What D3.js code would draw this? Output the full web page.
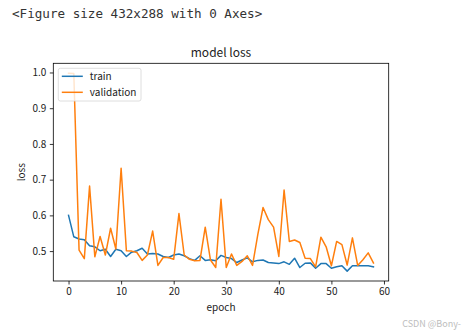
<!DOCTYPE html>
<html>
<head>
<meta charset="utf-8">
<script src="https://cdn.jsdelivr.net/npm/d3@7"></script>
<style>
  html, body { margin: 0; padding: 0; background: #fff; }
  svg { display: block; }
</style>
</head>
<body>
<svg id="chart" width="465" height="335"></svg>
<script>
// Per-epoch loss history
const epochs = d3.range(0, 59);
const trainLoss = [
  0.600, 0.540, 0.534, 0.532, 0.515, 0.512, 0.501, 0.505, 0.485, 0.505,
  0.501, 0.485, 0.497, 0.501, 0.508, 0.492, 0.493, 0.492, 0.485, 0.482,
  0.489, 0.492, 0.487, 0.479, 0.474, 0.487, 0.474, 0.476, 0.473, 0.488,
  0.482, 0.479, 0.468, 0.475, 0.481, 0.470, 0.474, 0.475, 0.468, 0.467,
  0.465, 0.470, 0.463, 0.480, 0.454, 0.466, 0.467, 0.452, 0.465, 0.465,
  0.452, 0.456, 0.459, 0.444, 0.459, 0.459, 0.459, 0.459, 0.456
];
const valLoss = [
  0.998, 0.997, 0.503, 0.479, 0.682, 0.484, 0.541, 0.489, 0.564, 0.506,
  0.732, 0.501, 0.500, 0.496, 0.474, 0.489, 0.556, 0.460, 0.482, 0.482,
  0.477, 0.605, 0.489, 0.477, 0.473, 0.474, 0.567, 0.475, 0.454, 0.645,
  0.454, 0.492, 0.460, 0.471, 0.487, 0.460, 0.546, 0.622, 0.588, 0.567,
  0.485, 0.671, 0.527, 0.531, 0.524, 0.480, 0.479, 0.456, 0.539, 0.512,
  0.459, 0.527, 0.518, 0.461, 0.537, 0.460, 0.476, 0.495, 0.467
];
const xTicks = [0, 10, 20, 30, 40, 50, 60];
const yTicks = [0.5, 0.6, 0.7, 0.8, 0.9, 1.0];
const seriesNames = ["train", "validation"];
const seriesColors = ["#1f77b4", "#ff7f0e"];

const svg = d3.select("#chart");
const font = "'Noto Sans CJK SC', 'Noto Sans', sans-serif";

// Notebook output line above the figure
svg.append("text")
  .attr("x", 12).attr("y", 18)
  .attr("font-family", "'DejaVu Sans Mono', monospace")
  .attr("font-size", 12.6)
  .attr("fill", "#333")
  .text("<Figure size 432x288 with 0 Axes>");

const plot = { left: 53.3, right: 388.7, top: 63.3, bottom: 281 };

// Matplotlib-style 5% margins around the data range
function padded(lo, hi) {
  const m = (hi - lo) * 0.05;
  return [lo - m, hi + m];
}
const allLoss = trainLoss.concat(valLoss);
const x = d3.scaleLinear()
  .domain(padded(d3.min(epochs), d3.max(epochs)))
  .range([plot.left, plot.right]);
const y = d3.scaleLinear()
  .domain(padded(d3.min(allLoss), d3.max(allLoss)))
  .range([plot.bottom, plot.top]);

// Clip lines to the axes area
svg.append("clipPath").attr("id", "plotClip")
  .append("rect")
  .attr("x", plot.left).attr("y", plot.top)
  .attr("width", plot.right - plot.left).attr("height", plot.bottom - plot.top);

const line = d3.line()
  .x((d, i) => x(epochs[i]))
  .y(d => y(d));

const series = [trainLoss, valLoss];
series.forEach((vals, k) => {
  svg.append("path")
    .datum(vals)
    .attr("clip-path", "url(#plotClip)")
    .attr("fill", "none")
    .attr("stroke", seriesColors[k])
    .attr("stroke-width", 1.5)
    .attr("stroke-linejoin", "round")
    .attr("stroke-linecap", "square")
    .attr("d", line);
});

// Axes
const xAxis = svg.append("g")
  .attr("transform", `translate(0,${plot.bottom})`)
  .call(d3.axisBottom(x).tickValues(xTicks).tickFormat(d3.format("d"))
    .tickSize(3.5).tickPadding(3.5));
const yAxis = svg.append("g")
  .attr("transform", `translate(${plot.left},0)`)
  .call(d3.axisLeft(y).tickValues(yTicks).tickFormat(d3.format(".1f"))
    .tickSize(3.5).tickPadding(3.5));

[xAxis, yAxis].forEach(g => {
  g.select(".domain").remove();
  g.selectAll(".tick line").attr("stroke", "#000").attr("stroke-width", 0.8);
  g.selectAll(".tick text")
    .attr("font-family", font)
    .attr("font-size", 10)
    .attr("fill", "#222");
});

// Frame
svg.append("rect")
  .attr("x", plot.left).attr("y", plot.top)
  .attr("width", plot.right - plot.left).attr("height", plot.bottom - plot.top)
  .attr("fill", "none").attr("stroke", "#000").attr("stroke-width", 0.8);

// Title and axis labels
svg.append("text")
  .attr("x", (plot.left + plot.right) / 2).attr("y", 57)
  .attr("text-anchor", "middle")
  .attr("font-family", font).attr("font-size", 12)
  .attr("fill", "#222")
  .text("model loss");
svg.append("text")
  .attr("x", (plot.left + plot.right) / 2).attr("y", 311)
  .attr("text-anchor", "middle")
  .attr("font-family", font).attr("font-size", 10)
  .attr("fill", "#222")
  .text("epoch");
svg.append("text")
  .attr("transform", `translate(25,${(plot.top + plot.bottom) / 2}) rotate(-90)`)
  .attr("text-anchor", "middle")
  .attr("font-family", font).attr("font-size", 10)
  .attr("fill", "#222")
  .text("loss");

// Legend (upper left)
const legend = svg.append("g").attr("transform", "translate(58.3,68.3)");
legend.append("rect")
  .attr("width", 82.7).attr("height", 32.7)
  .attr("rx", 2)
  .attr("fill", "#fff").attr("fill-opacity", 0.8)
  .attr("stroke", "#d6d6d6").attr("stroke-width", 0.8);
seriesNames.forEach((name, i) => {
  const cy = 8 + i * 16;
  legend.append("line")
    .attr("x1", 3.5).attr("x2", 24.5)
    .attr("y1", cy).attr("y2", cy)
    .attr("stroke", seriesColors[i]).attr("stroke-width", 1.5);
  legend.append("text")
    .attr("x", 31.5).attr("y", cy)
    .attr("dy", "0.35em")
    .attr("font-family", font).attr("font-size", 10)
    .attr("fill", "#222")
    .text(name);
});

// Watermark
svg.append("text")
  .attr("x", 461).attr("y", 327)
  .attr("text-anchor", "end")
  .attr("font-family", font).attr("font-size", 9)
  .attr("fill", "#bdbdbd")
  .text("CSDN @Bony-");
</script>
</body>
</html>
